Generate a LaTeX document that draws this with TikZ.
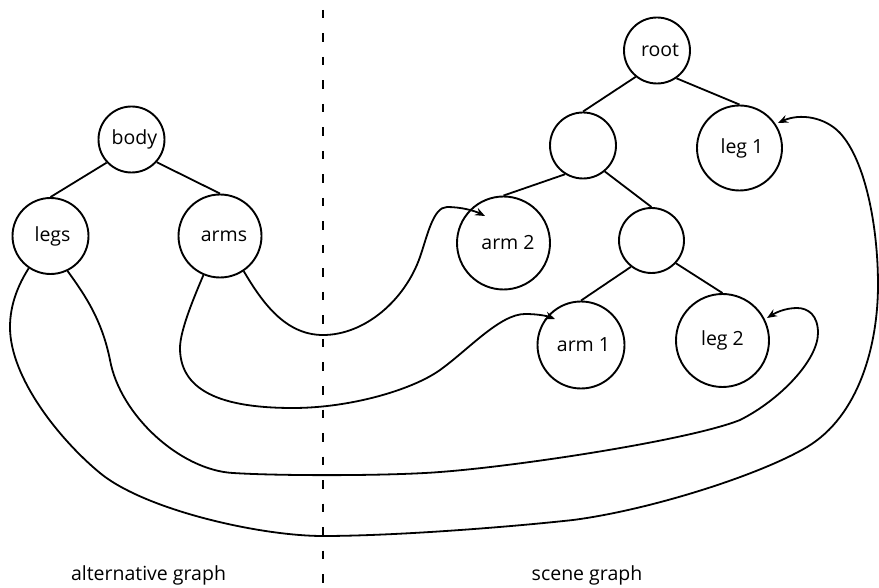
\documentclass[tikz,border=0pt]{standalone}
\usepackage{fontspec}
\setmainfont{Open Sans}
\usetikzlibrary{arrows.meta}
\begin{document}
\begin{tikzpicture}[x=1pt,y=-1pt,
  line width=1.9pt,
  every node/.style={font=\fontsize{19.5}{23}\selectfont},
  vertex/.style={draw,circle,inner sep=0pt,minimum size=#1},
  named/.style 2 args={label={[xshift=#1]center:#2}},
  treeedge/.style={line width=1.8pt},
  link/.style={line width=1.8pt,-{Stealth[length=10pt,width=8pt,inset=3.5pt]}},
  divider/.style={line width=2pt,dash pattern=on 8.5pt off 15pt},
  caption/.style={anchor=base}]
  \useasboundingbox (0,0) rectangle (879,588);

  % alternative graph
  \node[vertex=66pt,named={3pt}{body}] (body) at (131.5,139.5) {};
  \node[vertex=76pt,named={2pt}{legs}] (legs) at (50.5,236) {};
  \node[vertex=83pt,named={4pt}{arms}] (arms) at (220,236) {};

  % scene graph
  \node[vertex=66pt,named={3pt}{root}] (root) at (657,50.5) {};
  \node[vertex=66pt] (u1) at (583,145.5) {};
  \node[vertex=85pt,named={2.5pt}{leg 1}] (leg1) at (739.5,148) {};
  \node[vertex=93pt,named={4.5pt}{arm 2}] (arm2) at (503.5,243) {};
  \node[vertex=65pt] (u2) at (651.5,240.5) {};
  \node[vertex=87pt,named={2.5pt}{arm 1}] (arm1) at (581,345) {};
  \node[vertex=93pt,named={0pt}{leg 2}] (leg2) at (722.5,340.5) {};

  % tree edges
  \draw[treeedge] (body.223) -- (legs.north);
  \draw[treeedge] (body.318) -- (arms.north);
  \draw[treeedge] (root.231) -- (u1.north);
  \draw[treeedge] (root.305) -- (leg1.north);
  \draw[treeedge] (u1.238) -- (arm2.north);
  \draw[treeedge] (u1.310) -- (u2.north);
  \draw[treeedge] (u2.232) -- (arm1.north);
  \draw[treeedge] (u2.317) -- (leg2.north);

  % arrow ends
  \coordinate (arm2in) at (485,216);
  \coordinate (arm1in) at (555,319);
  \coordinate (leg2in) at (767,318);
  \coordinate (leg1in) at (778,123);

  % arms -> arm 2
  \draw[link] (arms.304)
    .. controls (262,302) and (285,335) .. (323,335)
    .. controls (365,335) and (405,300) .. (420,257)
    .. controls (427,237) and (433,207) .. (447,207)
    .. controls (462,207) and (475,211) .. (arm2in);
  % arms -> arm 1
  \draw[link] (arms.247)
    .. controls (195,295) and (180,330) .. (180,348)
    .. controls (180,395) and (230,408) .. (293,408)
    .. controls (350,408) and (412,390) .. (440,370)
    .. controls (468,350) and (500,314) .. (525,314)
    .. controls (538,314) and (547,316) .. (arm1in);
  % legs -> leg 2
  \draw[link] (legs.296)
    .. controls (85,295) and (102,320) .. (110,360)
    .. controls (120,415) and (180,470) .. (233,473)
    .. controls (280,476) and (390,476) .. (440,472)
    .. controls (520,466) and (690,440) .. (740,420)
    .. controls (780,400) and (818,360) .. (818,333)
    .. controls (818,315) and (808,308) .. (797,308)
    .. controls (785,308) and (775,313) .. (leg2in);
  % legs -> leg 1
  \draw[link] (legs.236.5)
    .. controls (18,285) and (10,305) .. (10,327)
    .. controls (10,378) and (60,440) .. (100,473)
    .. controls (145,510) and (260,536) .. (323,536)
    .. controls (390,536) and (500,528) .. (573,520)
    .. controls (650,510) and (760,475) .. (807,447)
    .. controls (859,416) and (878,345) .. (878,285)
    .. controls (878,225) and (865,160) .. (840,133)
    .. controls (825,117) and (800,113) .. (leg1in);

  % divider
  \coordinate (divtop) at (323,10);
  \coordinate (divbot) at (323,588);
  \draw[divider] (divtop) -- (divbot);

  % captions
  \node[caption] (altcap) at (148.5,580) {alternative graph};
  \node[caption] (scenecap) at (587,580) {scene graph};
\end{tikzpicture}
\end{document}
